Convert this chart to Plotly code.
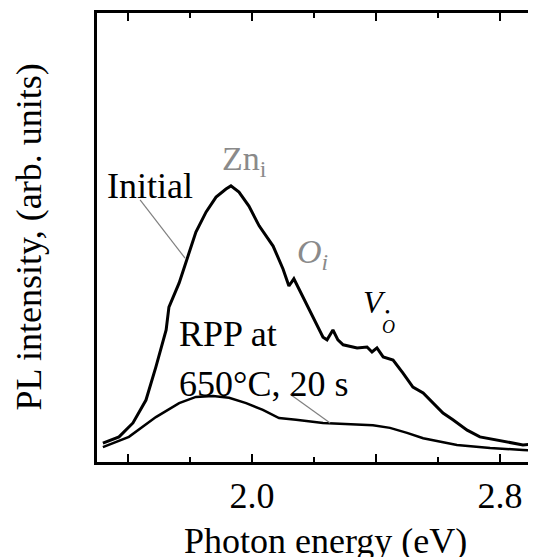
import plotly.graph_objects as go

# Photon energy (eV) and PL intensity (arb. units, normalised to frame height)
initial_energy = [1.519, 1.571, 1.616, 1.658, 1.690, 1.723, 1.732, 1.765, 1.787, 1.819,
                  1.852, 1.884, 1.916, 1.932, 1.958, 1.990, 2.023, 2.068, 2.100, 2.119,
                  2.135, 2.165, 2.197, 2.229, 2.242, 2.261, 2.277, 2.294, 2.339, 2.371,
                  2.387, 2.403, 2.423, 2.455, 2.487, 2.519, 2.552, 2.584, 2.616, 2.648,
                  2.694, 2.735, 2.790, 2.832, 2.874, 2.916]
initial_pl = [0.042, 0.056, 0.087, 0.138, 0.212, 0.294, 0.345, 0.399, 0.445, 0.512,
              0.557, 0.590, 0.608, 0.615, 0.601, 0.570, 0.526, 0.481, 0.430, 0.392,
              0.408, 0.367, 0.323, 0.278, 0.272, 0.294, 0.272, 0.261, 0.254, 0.256,
              0.245, 0.254, 0.234, 0.227, 0.198, 0.167, 0.154, 0.131, 0.109, 0.094,
              0.071, 0.056, 0.049, 0.042, 0.038, 0.040]

rpp_energy = [1.519, 1.603, 1.690, 1.765, 1.819, 1.874, 1.926, 1.981, 2.035, 2.087,
              2.142, 2.229, 2.390, 2.445, 2.500, 2.552, 2.661, 2.768, 2.874, 2.916]
rpp_pl = [0.033, 0.056, 0.100, 0.131, 0.145, 0.147, 0.143, 0.131, 0.116, 0.098,
          0.094, 0.087, 0.082, 0.076, 0.065, 0.053, 0.038, 0.031, 0.027, 0.025]

tick_vals = [1.6, 2.0, 2.4, 2.8]
tick_text = ["", "2.0", "", "2.8"]
minor_vals = [1.8, 2.2, 2.6]

FONT = "Liberation Serif, Times New Roman, serif"
GRAY = "#8a8a8a"

fig = go.Figure()
fig.add_trace(go.Scatter(x=initial_energy, y=initial_pl, mode="lines",
                         line=dict(color="black", width=3), showlegend=False))
fig.add_trace(go.Scatter(x=rpp_energy, y=rpp_pl, mode="lines",
                         line=dict(color="black", width=2.5), showlegend=False))

# leader lines
fig.add_shape(type="line", x0=1.639, y0=0.584, x1=1.784, y1=0.454,
              line=dict(color="#808080", width=1.2))
fig.add_shape(type="line", x0=2.123, y0=0.151, x1=2.252, y1=0.087,
              line=dict(color="#808080", width=1.2))

ann = [
    dict(x=1.526, y=0.615, text="Initial", xanchor="left", size=36, color="black"),
    dict(x=1.977, y=0.670, text="Zn<sub>i</sub>", xanchor="center", size=34, color=GRAY),
    dict(x=2.194, y=0.463, text="<i>O<sub>i</sub></i>", xanchor="center", size=34, color=GRAY),
    dict(x=2.394, y=0.356, text="<i>V</i>", xanchor="center", size=32, color="black"),
    dict(x=2.439, y=0.301, text="<i>O</i>", xanchor="center", size=18, color="black"),
    dict(x=2.436, y=0.332, text="•", xanchor="center", size=14, color="black"),
    dict(x=1.758, y=0.285, text="RPP at", xanchor="left", size=36, color="black"),
    dict(x=1.758, y=0.174, text="650°C, 20 s", xanchor="left", size=36, color="black"),
]
for a in ann:
    fig.add_annotation(xref="x", yref="y", showarrow=False, yanchor="middle",
                       x=a["x"], y=a["y"], text=a["text"], xanchor=a["xanchor"],
                       font=dict(family=FONT, size=a["size"], color=a["color"]))

fig.add_annotation(xref="paper", yref="paper", x=0.52, y=-0.176, showarrow=False,
                   text="Photon energy (eV)", yanchor="middle",
                   font=dict(family=FONT, size=36, color="black"))
fig.add_annotation(xref="paper", yref="paper", x=-0.157, y=0.5, showarrow=False,
                   text="PL intensity, (arb. units)", textangle=-90,
                   xanchor="center", yanchor="middle",
                   font=dict(family=FONT, size=36, color="black"))

fig.update_xaxes(range=[1.5, 2.916], showgrid=False, zeroline=False,
                 showline=True, linecolor="black", linewidth=2.5, mirror="ticks",
                 ticks="inside", ticklen=8, tickwidth=2, tickcolor="black",
                 tickmode="array", tickvals=tick_vals, ticktext=tick_text,
                 tickfont=dict(family=FONT, size=36, color="black"),
                 minor=dict(tickmode="array", tickvals=minor_vals, ticks="inside",
                            ticklen=5, tickwidth=2, tickcolor="black", showgrid=False))
fig.update_yaxes(range=[0, 1], showgrid=False, zeroline=False, showline=True,
                 linecolor="black", linewidth=2.5, ticks="", showticklabels=False)

# page body has an 8px margin, so the figure is drawn 8px in from the top-left
fig.update_layout(width=528, height=549, plot_bgcolor="white", paper_bgcolor="white",
                  margin=dict(l=89, r=0, t=5, b=95), showlegend=False)

fig.write_html("out.html")
